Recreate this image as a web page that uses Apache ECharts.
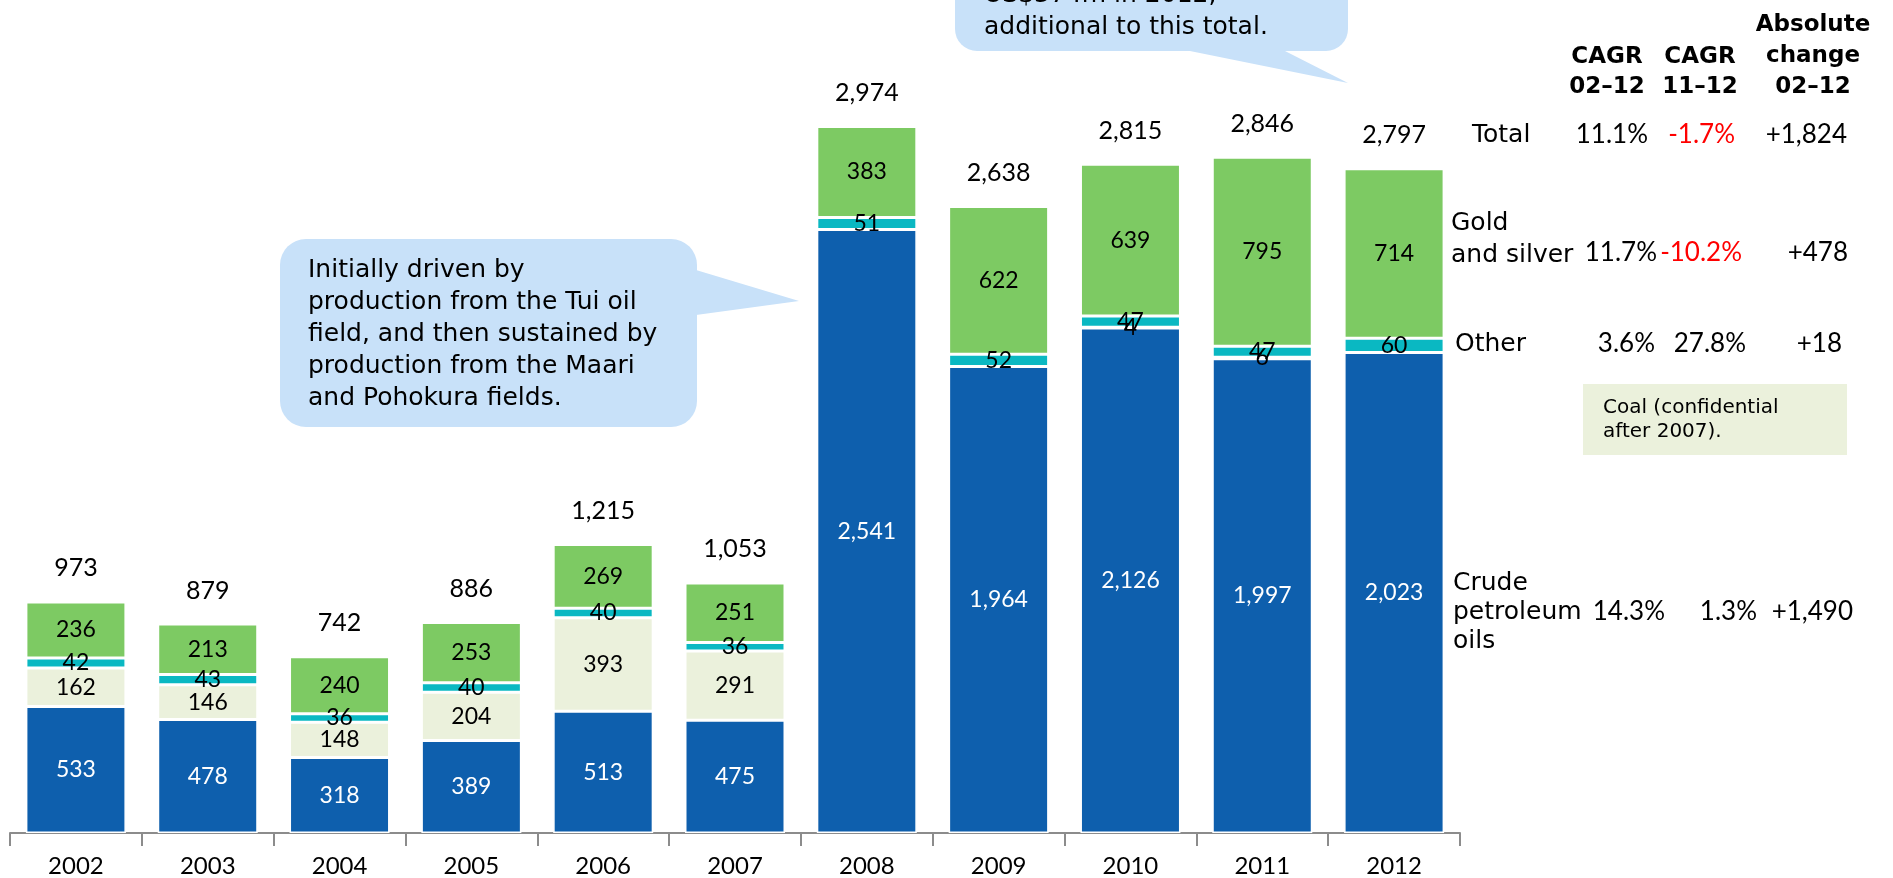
<!DOCTYPE html>
<html>
<head>
<meta charset="utf-8">
<title>Exports</title>
<script src="https://cdn.jsdelivr.net/npm/echarts@6/dist/echarts.min.js"></script>
<style>
  html, body { margin: 0; padding: 0; background: #fff; }
  #chart { width: 1893px; height: 878px; }
</style>
</head>
<body>
<div id="chart"></div>
<script>
// chart data
const years = ['2002', '2003', '2004', '2005', '2006', '2007', '2008', '2009', '2010', '2011', '2012']
const crude = [533, 478, 318, 389, 513, 475, 2541, 1964, 2126, 1997, 2023]
const coal = [162, 146, 148, 204, 393, 291, null, null, 4, 6, null]
const other = [42, 43, 36, 40, 40, 36, 51, 52, 47, 47, 60]
const gold = [236, 213, 240, 253, 269, 251, 383, 622, 639, 795, 714]
const totals = [973, 879, 742, 886, 1215, 1053, 2974, 2638, 2815, 2846, 2797]

const NUM = 'Lato, "Noto Sans", sans-serif'
const WORD = '"DejaVu Sans", "Noto Sans", sans-serif'
const BUBBLE = '#c8e1f9'

function stackSeries(name, data, color, labelColor) {
  return {
    name: name,
    type: 'bar',
    stack: 'total',
    barWidth: 100,
    data: data,
    itemStyle: { color: color, borderColor: '#fff', borderWidth: 1.5 },
    label: {
      show: true,
      position: 'inside',
      color: labelColor,
      fontFamily: NUM,
      fontSize: 23,
      formatter: p => (p.value == null ? '' : p.value.toLocaleString('en-US'))
    }
  }
}

// text element, (x, y) = anchor point, vertically centred
function txt(x, y, text, opts) {
  return {
    type: 'text',
    x: x,
    y: y,
    style: Object.assign({
      text: text,
      fill: '#000',
      font: '25px ' + WORD,
      verticalAlign: 'middle'
    }, opts || {})
  }
}
function num(x, y, text, color) {
  return txt(x, y, text, { font: '26px ' + NUM, align: 'right', fill: color || '#000' })
}

const chart = echarts.init(document.getElementById('chart'))

const option = {
  backgroundColor: '#fff',
  animation: false,
  grid: { left: 10, right: 433, top: 120.5, bottom: 45 },
  xAxis: {
    type: 'category',
    data: years,
    axisLine: { lineStyle: { color: '#8c8c8c', width: 2 } },
    axisTick: { show: true, length: 13, lineStyle: { color: '#8c8c8c', width: 2 } },
    axisLabel: { color: '#000', fontFamily: NUM, fontSize: 24, margin: 21 }
  },
  yAxis: { type: 'value', min: 0, max: 3000, show: false },
  series: [
    stackSeries('Crude petroleum oils', crude, '#0e5fad', '#fff'),
    stackSeries('Coal', coal, '#ebf1dc', '#000'),
    stackSeries('Other', other, '#0ab8c2', '#000'),
    stackSeries('Gold and silver', gold, '#7dca63', '#000'),
    {
      name: 'Total',
      type: 'bar',
      barWidth: 100,
      barGap: '-100%',
      silent: true,
      data: totals,
      itemStyle: { color: 'rgba(0,0,0,0)' },
      label: {
        show: true,
        position: 'top',
        distance: 21,
        color: '#000',
        fontFamily: NUM,
        fontSize: 25,
        formatter: p => p.value.toLocaleString('en-US')
      },
      z: 1
    }
  ],
  graphic: [
    // callout, top (partly off the page)
    { type: 'rect', shape: { x: 955, y: -70, width: 393, height: 121, r: 22 }, style: { fill: BUBBLE } },
    { type: 'polygon', shape: { points: [[1185, 50], [1348, 83], [1283, 50]] }, style: { fill: BUBBLE } },
    txt(984, 11, 'US$374m in 2012,\nadditional to this total.', { lineHeight: 32 }),
    // callout, left
    { type: 'rect', shape: { x: 280, y: 239, width: 417, height: 188, r: 26 }, style: { fill: BUBBLE } },
    { type: 'polygon', shape: { points: [[696, 270], [799, 301], [696, 315]] }, style: { fill: BUBBLE } },
    txt(308, 334, 'Initially driven by\nproduction from the Tui oil\nfield, and then sustained by\nproduction from the Maari\nand Pohokura fields.', { lineHeight: 32 }),
    // table headers
    txt(1607, 72, 'CAGR\n02–12', { font: 'bold 23px ' + WORD, align: 'center', lineHeight: 30 }),
    txt(1700, 72, 'CAGR\n11–12', { font: 'bold 23px ' + WORD, align: 'center', lineHeight: 30 }),
    txt(1813, 56, 'Absolute\nchange\n02–12', { font: 'bold 23px ' + WORD, align: 'center', lineHeight: 31 }),
    // Total row
    txt(1472, 135, 'Total'),
    num(1648, 135, '11.1%'),
    num(1735, 135, '-1.7%', '#ff0000'),
    num(1847, 135, '+1,824'),
    // Gold and silver row
    txt(1451, 239, 'Gold\nand silver', { lineHeight: 32 }),
    num(1657, 253, '11.7%'),
    num(1742, 253, '-10.2%', '#ff0000'),
    num(1848, 253, '+478'),
    // Other row
    txt(1455, 344, 'Other'),
    num(1655, 344, '3.6%'),
    num(1746, 344, '27.8%'),
    num(1842, 344, '+18'),
    // coal note
    { type: 'rect', shape: { x: 1583, y: 384, width: 264, height: 71 }, style: { fill: '#ebf1dc' } },
    txt(1603, 420, 'Coal (confidential\nafter 2007).', { font: '20px ' + WORD, lineHeight: 24 }),
    // Crude row
    txt(1453, 612, 'Crude\npetroleum\noils', { lineHeight: 29 }),
    num(1665, 612, '14.3%'),
    num(1757, 612, '1.3%'),
    num(1853, 612, '+1,490')
  ]
}

chart.setOption(option)
window.addEventListener('resize', () => {
  chart.resize()
})
</script>
</body>
</html>
